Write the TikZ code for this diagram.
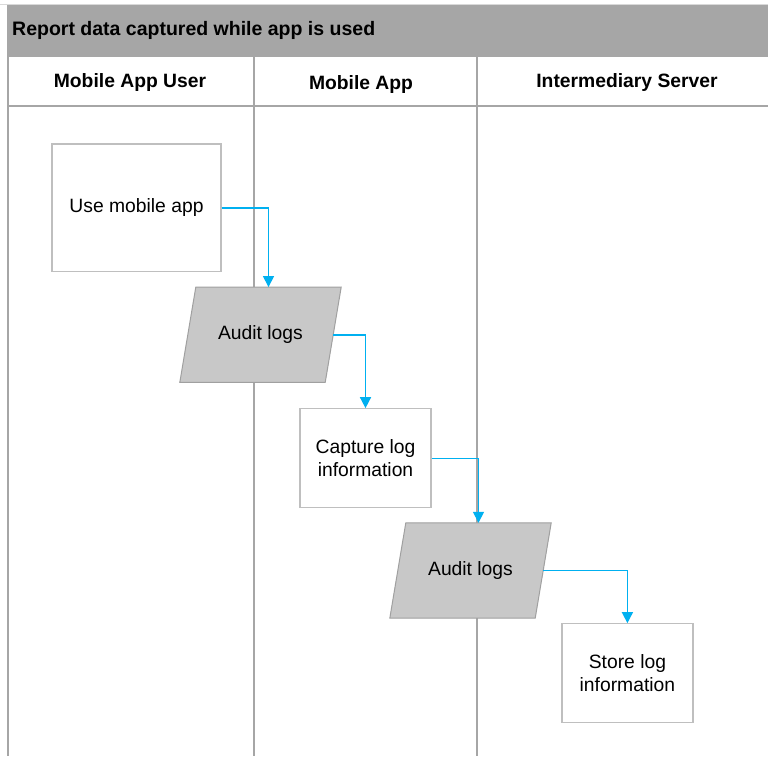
\documentclass[tikz,border=0pt]{standalone}
\usepackage{fontspec}
\setmainfont{Liberation Sans}
\usetikzlibrary{arrows.meta}
\definecolor{lanegray}{HTML}{A6A6A6}
\definecolor{bandgray}{HTML}{A6A6A6}
\definecolor{boxgray}{HTML}{BFBFBF}
\definecolor{datagray}{HTML}{A0A0A0}
\definecolor{datafill}{HTML}{C8C8C8}
\definecolor{flowblue}{HTML}{00B0F0}
\begin{document}
\begin{tikzpicture}[x=1pt,y=-1pt,
  lane/.style={draw=lanegray, line width=1.2pt},
  procbox/.style={rectangle, draw=boxgray, line width=1.3pt, fill=white, align=center,
    font=\fontsize{19.3}{23}\selectfont, inner sep=0pt},
  datatext/.style={rectangle, minimum width=145pt, minimum height=95pt, inner sep=0pt,
    font=\fontsize{19.3}{23}\selectfont},
  datashape/.style={draw=datagray, fill=datafill, line width=1pt},
  lanehead/.style={anchor=base, font=\bfseries\fontsize{19.3}{23}\selectfont, inner sep=0pt},
  flow/.style={draw=flowblue, line width=1.5pt, -{Triangle[length=11pt,width=11pt]}},
]
\useasboundingbox (0,0) rectangle (768,756);
% frame and title band
\fill[white] (0,0) rectangle (768,756);
\draw[draw=boxgray!60, line width=1pt] (0,4.5) -- (768,4.5);
\fill[bandgray] (8,5) rectangle (768,57);
\draw[lane] (8,5) -- (8,756);
\draw[lane] (8,106) -- (768,106);
\draw[lane] (254,57) -- (254,756);
\draw[lane] (477,57) -- (477,756);
\node[anchor=base west, inner sep=0pt, font=\bfseries\fontsize{19.5}{23}\selectfont] (title) at (12,35) {Report data captured while app is used};
\node[lanehead] (h1) at (130,87) {Mobile App User};
\node[lanehead] (h2) at (361,89) {Mobile App};
\node[lanehead] (h3) at (627,87) {Intermediary Server};
% process boxes
\node[procbox, minimum width=169pt, minimum height=127.5pt] (use) at (136.5,207.75) {Use mobile app};
\node[procbox, minimum width=131pt, minimum height=99pt] (cap) at (365.5,458.3) {Capture log\\information};
\node[procbox, minimum width=131pt, minimum height=99pt] (store) at (627.4,673.3) {Store log\\information};
% data shapes (parallelograms drawn round named text nodes)
\node[datatext] (aud1) at (260.5,334.75) {};
\draw[datashape] ([xshift=-8pt]aud1.south west) -- ([xshift=8pt]aud1.north west)
  -- ([xshift=8pt]aud1.north east) -- ([xshift=-8pt]aud1.south east) -- cycle;
\node[datatext] at (aud1) {Audit logs};
\node[datatext] (aud2) at (470.5,570.5) {};
\draw[datashape] ([xshift=-8pt]aud2.south west) -- ([xshift=8pt]aud2.north west)
  -- ([xshift=8pt]aud2.north east) -- ([xshift=-8pt]aud2.south east) -- cycle;
\node[datatext] at (aud2) {Audit logs};
\coordinate (aud1top) at ([xshift=8pt]aud1.north);
\coordinate (aud2top) at ([xshift=8pt]aud2.north);
% flows
\draw[flow] (use.east) -| (aud1top);
\draw[flow] (aud1.east) -| (cap.north);
\draw[flow] (cap.east) -| (aud2top);
\draw[flow] (aud2.east) -| (store.north);
\end{tikzpicture}
\end{document}
